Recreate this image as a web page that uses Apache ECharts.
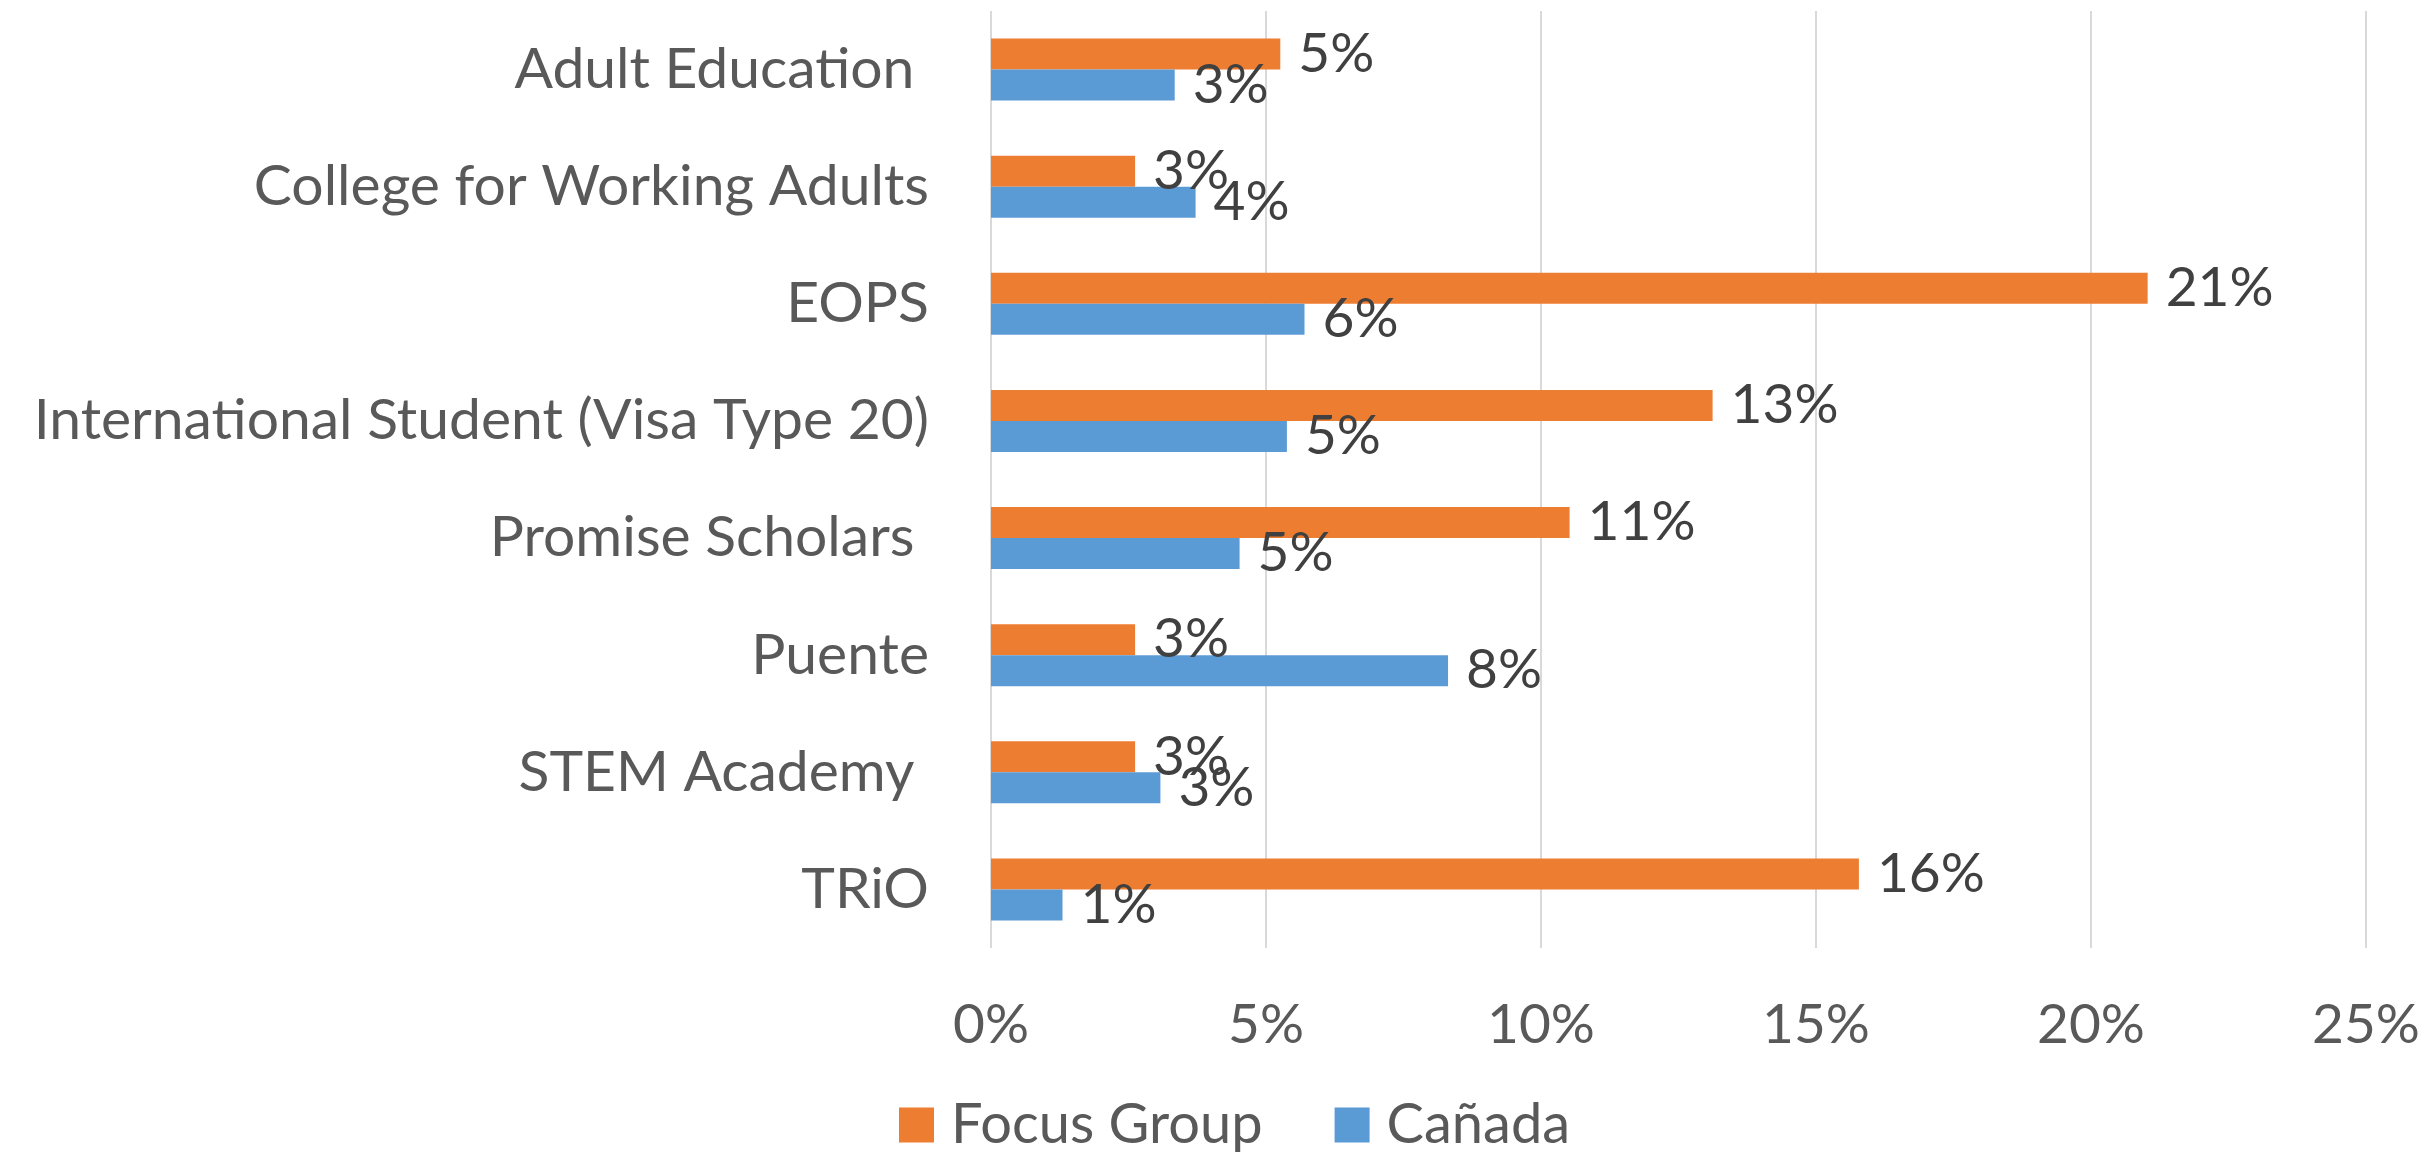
<!DOCTYPE html>
<html>
<head>
<meta charset="utf-8">
<script src="https://cdn.jsdelivr.net/npm/echarts@6/dist/echarts.min.js"></script>
<style>
html,body{margin:0;padding:0;background:#fff;}
#chart{width:2427px;height:1152px;}
</style>
</head>
<body>
<div id="chart"></div>
<script>
const categories = ["Adult Education ", "College for Working Adults", "EOPS", "International Student (Visa Type 20)", "Promise Scholars ", "Puente", "STEM Academy ", "TRiO"];
const seriesNames = ["Focus Group", "Cañada"];
const focusGroup = [5.26, 2.62, 21.03, 13.12, 10.52, 2.62, 2.62, 15.78];
const canada = [3.34, 3.72, 5.70, 5.38, 4.52, 8.31, 3.08, 1.30];
const xTicks = [0, 5, 10, 15, 20, 25];

const FONT = 'Lato';
const chart = echarts.init(document.getElementById('chart'), null, {renderer: 'canvas'});
const labelCfg = {
  show: true,
  position: 'right',
  distance: 18,
  color: '#404040',
  fontFamily: FONT,
  fontSize: 55,
  formatter: p => Math.round(p.value) + '%'
};
chart.setOption({
  animation: false,
  backgroundColor: '#ffffff',
  textStyle: {fontFamily: FONT},
  grid: {left: 991, right: 61, top: 11, bottom: 204, containLabel: false},
  legend: {
    data: seriesNames,
    left: 894,
    top: 1092,
    itemWidth: 35,
    itemHeight: 35,
    itemGap: 72,
    textStyle: {fontFamily: FONT, fontSize: 56, color: '#595959', padding: [0, 0, 0, 12]},
    icon: 'rect'
  },
  xAxis: {
    type: 'value',
    min: xTicks[0],
    max: xTicks[xTicks.length - 1],
    interval: xTicks[1] - xTicks[0],
    axisLine: {show: false},
    axisTick: {show: false},
    splitLine: {show: true, lineStyle: {color: '#D9D9D9', width: 2}},
    axisLabel: {
      margin: 50,
      color: '#595959',
      fontFamily: FONT,
      fontSize: 55,
      formatter: v => v + '%'
    }
  },
  yAxis: {
    type: 'category',
    inverse: true,
    data: categories,
    axisLine: {show: false},
    axisTick: {show: false},
    axisLabel: {
      margin: 62,
      color: '#595959',
      fontFamily: FONT,
      fontSize: 57
    }
  },
  series: [
    {
      name: seriesNames[0],
      type: 'bar',
      data: focusGroup,
      barGap: '0%',
      barCategoryGap: '47%',
      itemStyle: {color: '#ED7D31'},
      label: labelCfg
    },
    {
      name: seriesNames[1],
      type: 'bar',
      data: canada,
      barGap: '0%',
      barCategoryGap: '47%',
      itemStyle: {color: '#5B9BD5'},
      label: labelCfg
    }
  ]
});
</script>
</body>
</html>
